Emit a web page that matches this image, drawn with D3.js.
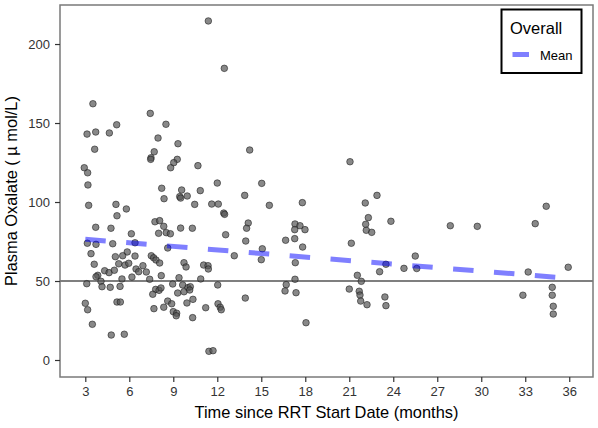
<!DOCTYPE html>
<html>
<head>
<meta charset="utf-8">
<script src="https://cdn.jsdelivr.net/npm/d3@7"></script>
<style>
  html, body { margin: 0; padding: 0; background: #fff; }
  svg { display: block; }
  text { font-family: "Liberation Sans", Arial, Helvetica, sans-serif; }
</style>
</head>
<body>
<svg id="chart" width="598" height="428"></svg>
<script>
// ---- Data ----
const months = [
  3.52,5.14,3.12,3.71,4.64,3.64,2.93,3.16,3.18,3.23,5.09,5.80,5.16,3.71,4.75,6.14,3.14,3.73,4.87,6.39,
  3.39,5.86,5.05,5.55,6.39,3.61,5.28,5.71,5.96,6.93,4.32,4.62,4.98,6.46,6.64,7.16,3.85,3.73,5.50,6.18,
  4.07,3.10,4.14,4.70,5.37,3.00,3.16,5.16,5.39,3.48,4.77,5.66,
  7.43,8.50,7.96,9.32,7.70,7.48,7.46,9.27,9.03,8.82,10.68,8.21,9.57,10.84,12.00,8.37,9.44,9.95,9.50,
  10.46,11.62,12.07,12.44,12.50,7.75,8.07,8.35,8.00,8.52,8.80,9.50,10.30,12.57,8.62,13.16,7.50,7.66,
  7.82,8.07,9.73,9.87,11.07,11.37,11.39,8.18,7.39,9.39,9.64,10.00,10.16,10.87,8.96,7.80,8.03,8.16,
  7.60,9.30,9.73,10.12,12.03,8.62,8.89,10.34,9.93,12.05,12.20,12.27,7.68,8.35,9.00,9.23,9.20,11.21,
  10.32,11.43,11.71,
  14.21,21.05,15.03,13.87,15.55,17.80,22.89,22.09,14.11,14.00,17.30,17.64,17.28,17.98,22.30,22.12,
  22.16,22.53,23.84,13.94,16.66,17.28,17.82,21.14,15.07,15.00,17.32,23.50,23.07,24.73,21.55,21.82,
  17.30,16.70,16.62,17.37,21.00,21.68,21.73,21.78,22.21,13.91,23.43,23.50,
  18.05,11.39,12.48,25.50,25.60,27.89,29.73,33.68,34.43,35.93,33.20,32.84,34.84,34.84,34.91,34.91
];
const oxalate = [
  162.2,148.9,143.0,144.3,143.7,133.4,121.7,118.5,110.8,97.9,98.5,95.6,91.3,84.0,83.4,79.9,73.9,73.2,73.6,74.2,
  67.3,68.4,65.4,66.0,65.8,60.6,60.9,60.1,61.2,59.7,56.5,55.3,56.8,57.6,55.9,55.7,53.6,52.7,51.3,52.5,
  49.8,48.3,46.4,46.0,46.6,35.9,31.8,36.7,36.7,22.6,15.8,16.3,
  156.1,149.2,140.5,136.9,131.8,128.0,127.0,127.0,124.9,121.7,123.0,108.7,107.6,107.2,112.0,102.1,103.4,103.8,102.5,
  98.5,98.7,98.7,93.0,92.2,87.5,88.2,84.6,80.2,80.6,79.9,83.5,83.4,79.3,70.9,66.0,66.0,64.7,
  63.3,61.4,61.6,58.9,60.1,59.7,57.6,53.4,51.1,52.1,47.5,45.8,46.4,51.3,48.1,44.7,44.1,45.6,
  41.6,42.4,43.2,44.3,47.5,37.3,35.6,38.4,36.1,35.6,33.4,31.8,32.5,33.4,30.6,29.6,28.0,33.1,
  26.8,5.5,5.9,
  132.9,125.5,111.8,104.2,97.9,99.6,104.2,99.4,86.7,83.4,86.1,85.0,82.5,82.5,90.1,85.9,
  82.1,80.8,87.8,75.3,75.8,76.8,71.5,73.9,70.4,63.5,61.6,60.6,55.9,58.0,53.6,49.8,
  51.1,47.7,43.7,42.6,44.9,43.5,41.1,37.3,35.0,39.2,39.9,34.4,
  23.6,214.6,184.6,65.8,57.9,85.0,84.6,86.3,97.3,58.7,55.7,41.0,46.0,41.0,34.0,29.1
];
// Overall mean (linear trend) end points
const meanMonths = [3.0, 35.23];
const meanValues = [76.4, 52.3];
const referenceLevel = 50;
const xTicks = [3, 6, 9, 12, 15, 18, 21, 24, 27, 30, 33, 36];
const yTicks = [0, 50, 100, 150, 200];
const xTitle = "Time since RRT Start Date (months)";
const yTitle = "Plasma Oxalate ( \u00b5 mol/L)";
const legendTitle = "Overall";
const legendLabel = "Mean";

// ---- Layout ----
const panel = { left: 60, right: 593, top: 5, bottom: 377 };
const svg = d3.select("#chart");

const x = d3.scaleLinear().domain([1.275, 37.62]).range([panel.left, panel.right]);
const y = d3.scaleLinear().domain([-10.76, 224.7]).range([panel.bottom, panel.top]);

// clip
svg.append("defs").append("clipPath").attr("id", "clip")
  .append("rect")
  .attr("x", panel.left).attr("y", panel.top)
  .attr("width", panel.right - panel.left).attr("height", panel.bottom - panel.top);

const g = svg.append("g").attr("clip-path", "url(#clip)");

// reference line at 50
g.append("line")
  .attr("x1", panel.left).attr("x2", panel.right)
  .attr("y1", y(referenceLevel)).attr("y2", y(referenceLevel))
  .attr("stroke", "#000").attr("stroke-width", 1.1);

// points
const pts = months.map((m, i) => ({ m, v: oxalate[i] }));
g.selectAll("circle.pt").data(pts).enter().append("circle")
  .attr("class", "pt")
  .attr("cx", d => x(d.m))
  .attr("cy", d => y(d.v))
  .attr("r", 3.3)
  .attr("fill", "#555")
  .attr("fill-opacity", 0.7)
  .attr("stroke", "#1a1a1a")
  .attr("stroke-opacity", 0.7)
  .attr("stroke-width", 0.8);

// mean line
const meanData = meanMonths.map((m, i) => [m, meanValues[i]]);
g.append("path")
  .datum(meanData)
  .attr("d", d3.line().x(d => x(d[0])).y(d => y(d[1])))
  .attr("fill", "none")
  .attr("stroke", "#0000ff")
  .attr("stroke-opacity", 0.5)
  .attr("stroke-width", 5)
  .attr("stroke-dasharray", "20.5 20.5");

// panel border
svg.append("rect")
  .attr("x", panel.left).attr("y", panel.top)
  .attr("width", panel.right - panel.left).attr("height", panel.bottom - panel.top)
  .attr("fill", "none").attr("stroke", "#7a7a7a").attr("stroke-width", 1.5);

// axes
const xAxis = svg.append("g")
  .attr("transform", `translate(0,${panel.bottom})`)
  .call(d3.axisBottom(x).tickValues(xTicks).tickSize(5).tickPadding(5).tickFormat(d3.format("d")));
const yAxis = svg.append("g")
  .attr("transform", `translate(${panel.left},0)`)
  .call(d3.axisLeft(y).tickValues(yTicks).tickSize(5).tickPadding(5).tickFormat(d3.format("d")));
[xAxis, yAxis].forEach(a => {
  a.select(".domain").remove();
  a.selectAll(".tick line").attr("stroke", "#333").attr("stroke-width", 1.2);
  a.selectAll(".tick text").attr("fill", "#333").style("font-size", "13px")
    .style("font-family", "'Liberation Sans', Arial, Helvetica, sans-serif");
});

// axis titles
svg.append("text")
  .attr("x", (panel.left + panel.right) / 2).attr("y", 418)
  .attr("text-anchor", "middle").attr("fill", "#000")
  .style("font-size", "16.4px").text(xTitle);
svg.append("text")
  .attr("transform", `translate(17,${(panel.top + panel.bottom) / 2}) rotate(-90)`)
  .attr("text-anchor", "middle").attr("fill", "#000")
  .style("font-size", "16.4px").text(yTitle);

// legend
const lg = svg.append("g");
lg.append("rect")
  .attr("x", 501.5).attr("y", 9.5).attr("width", 80).attr("height", 63.5)
  .attr("fill", "#fff").attr("stroke", "#000").attr("stroke-width", 2);
lg.append("text").attr("x", 510).attr("y", 33.5).attr("fill", "#000")
  .style("font-size", "16.5px").text(legendTitle);
lg.append("line")
  .attr("x1", 512.5).attr("x2", 529).attr("y1", 54.5).attr("y2", 54.5)
  .attr("stroke", "#0000ff").attr("stroke-opacity", 0.5).attr("stroke-width", 5);
lg.append("text").attr("x", 540).attr("y", 60).attr("fill", "#000")
  .style("font-size", "13px").text(legendLabel);
</script>
</body>
</html>
